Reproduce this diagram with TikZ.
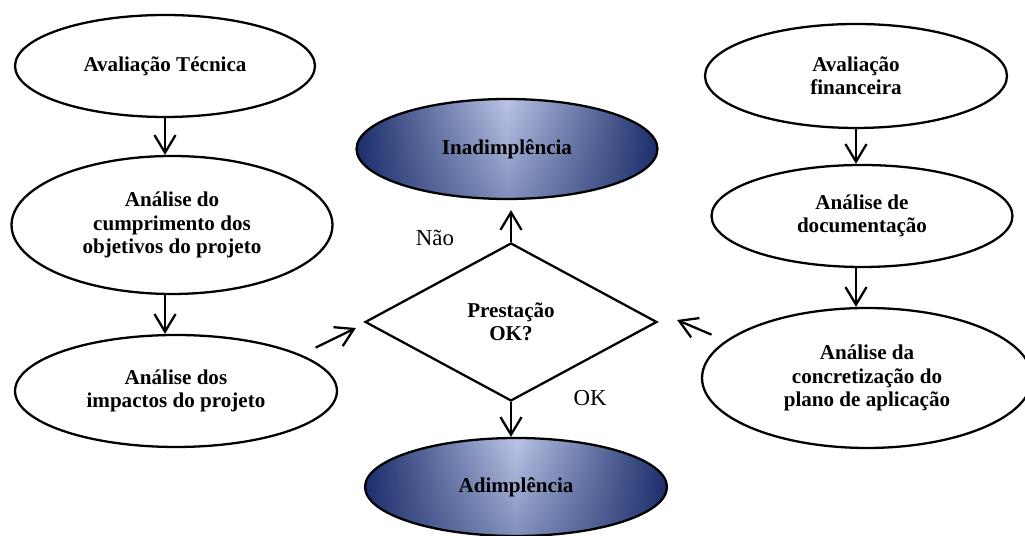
\documentclass[tikz,border=0pt]{standalone}
\usepackage{fontspec}
\setmainfont{Liberation Serif}
\usepackage{tikz}
\usetikzlibrary{shapes.geometric, arrows.meta, fadings}

\definecolor{azulesc}{RGB}{28,46,108}
\definecolor{azulcla}{RGB}{186,197,230}

\begin{document}
\begin{tikzpicture}[x=0.02cm, y=0.02cm,
	oval/.style={ellipse, draw=black, line width=1.3pt, inner sep=0pt, align=center, font=\fontsize{12}{13.2}\selectfont\bfseries},
	darkoval/.style={oval, left color=azulesc, right color=azulesc, middle color=azulcla,
		path picture={\fill[azulesc, opacity=.35, path fading=north] (path picture bounding box.south west) rectangle (path picture bounding box.north east);}},
	decision/.style={diamond, draw=black, line width=1.3pt, inner sep=0pt, align=center, font=\fontsize{12}{13.2}\selectfont\bfseries},
	label/.style={inner sep=0pt, font=\fontsize{13}{15}\selectfont},
	arr/.style={draw=black, line width=1.3pt, -{Straight Barb[length=10pt, width=12pt]}}]
				\useasboundingbox (0,0) rectangle (1025,536);
				
				\node[oval, minimum width=6cm, minimum height=2.04cm] (t1) at (165,470){Avaliação Técnica};
				\node[oval, minimum width=6.42cm, minimum height=2.76cm] (t2) at (172,311){Análise do\\cumprimento dos\\objetivos do projeto};
				\node[oval, minimum width=6.44cm, minimum height=2.24cm] (t3) at (176,145){Análise dos\\impactos do projeto};
				
				\node[oval, minimum width=6.04cm, minimum height=2.08cm] (f1) at (856,460){Avaliação\\financeira};
				\node[oval, minimum width=6.02cm, minimum height=2.04cm] (f2) at (862,320){Análise de\\documentação};
				\node[oval, minimum width=6.6cm, minimum height=2.8cm] (f3) at (867,158){Análise da\\concretização do\\plano de aplicação};
				
				\node[decision, minimum width=5.84cm, minimum height=3.16cm] (dec) at (511,214){Prestação\\OK?};
				\node[darkoval, minimum width=6.02cm, minimum height=2cm] (inad) at (507,387){Inadimplência};
				\node[darkoval, minimum width=6.04cm, minimum height=1.96cm] (adim) at (516,49){Adimplência};
				
				\node[label] (nao) at (435,298){Não};
				\node[label] (ok) at (590,138){OK};
				
				\path[arr] (t1.south) -- (t1.south |- t2.north);
				\path[arr] (t1 |- t2.south) -- (t1 |- t3.north);
				\path[arr] ([shift={(25,3)}]t3.north east) -- ([shift={(-8,-6)}]dec.west);
				
				\path[arr] (f1.south) -- (f1.south |- f2.north);
				\path[arr] (f1 |- f2.south) -- (f1 |- f3.north);
				\path[arr] ([shift={(-38,-7)}]f3.north west) -- ([shift={(19,2)}]dec.east);
				
				\path[arr, shorten >=0.2cm] (dec.north) -- (dec.north |- inad.south);
				\path[arr] (dec.south) -- (dec.south |- adim.north);
\end{tikzpicture}
\end{document}
